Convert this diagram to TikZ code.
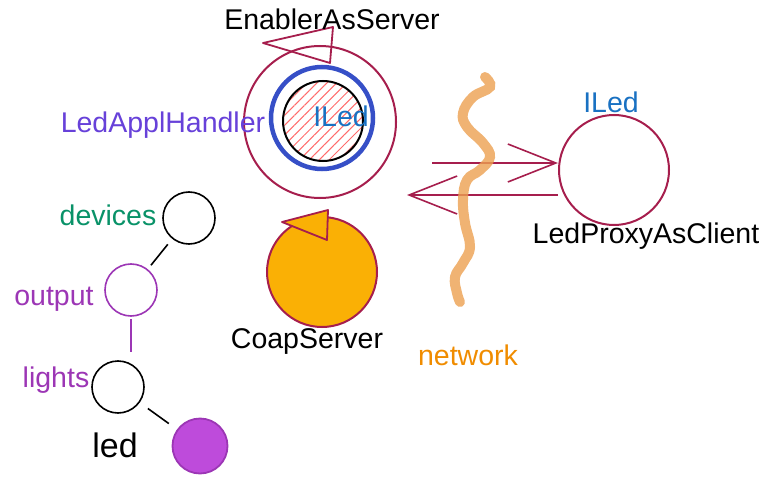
\documentclass[tikz,border=0pt]{standalone}
\usepackage{fontspec}
\setmainfont{Liberation Sans}
\usepackage{tikz}
\usetikzlibrary {arrows.meta}
\usetikzlibrary {patterns.meta}

\definecolor{crimson}{HTML}{A61E4D}
\definecolor{ringblue}{HTML}{364FC7}
\definecolor{ifblue}{HTML}{1971C2}
\definecolor{handler}{HTML}{6741D9}
\definecolor{devgreen}{HTML}{099268}
\definecolor{violet}{HTML}{9C36B5}
\definecolor{ledfill}{HTML}{BE4BDB}
\definecolor{coap}{HTML}{FAB005}
\definecolor{hatch}{HTML}{FF6B6B}
\definecolor{netline}{RGB}{236,160,80}
\definecolor{nettext}{HTML}{F08C00}

\begin{document}
\begin{tikzpicture}[x=1pt,y=-1pt,
    lbl/.style={anchor=base,font=\fontsize{28.5}{31}\selectfont},
    ring/.style={circle,draw,inner sep=0pt},
    barb/.style={-{Straight Barb[length=48pt,width=38pt]},draw=crimson,line width=1.6pt}]
        \useasboundingbox (0,0) rectangle (765,489);

        % server side
        \node[ring,draw=crimson,line width=2pt,minimum size=152pt] (enabler) at (320,122) {};
        \node[ring,draw=ringblue,line width=4.5pt,minimum size=102pt] (handler) at (322,118) {};
        \node[ring,draw=black,line width=2pt,minimum size=80pt,
              pattern={Lines[angle=45,distance=7pt,line width=1pt]},pattern color=hatch] (ledif) at (323,121) {};
        \draw[crimson,line width=1.8pt,line join=round](263,43)--(333,27)--(330,63)--cycle;%矢印
        \node[lbl] (tEnabler) at (332,30) {EnablerAsServer};
        \node[lbl,text=handler] (tHandler) at (163,133) {LedApplHandler};
        \node[lbl,text=ifblue] (tIf) at (341,127) {ILed};

        \node[ring,draw=crimson,fill=coap,line width=2pt,minimum size=110pt] (coap) at (322,272) {};
        \draw[crimson,fill=coap,line width=1.8pt,line join=round](282,222)--(328,210)--(327,240)--cycle;%矢印
        \node[lbl] (tCoap) at (307,348) {CoapServer};

        % client side
        \node[ring,draw=crimson,line width=2pt,minimum size=110pt] (proxy) at (614,170) {};
        \node[lbl,text=ifblue] (tProxyIf) at (611,113) {ILed};
        \node[lbl] (tProxy) at (646,243) {LedProxyAsClient};

        \coordinate (req) at (432,163);
        \coordinate (rep) at (407,195);
        \draw[barb](req)--(req -| proxy.west);
        \draw[barb](proxy.west |- rep)--(rep);

        % network
        \draw[netline,line width=10pt,line cap=round,opacity=.8] plot[smooth,tension=.7] coordinates
            {(485,77) (490,87) (473,97) (463,113) (467,127) (483,143) (490,157) (480,170) (467,180)
             (463,200) (465,223) (470,247) (463,263) (455,277) (457,293) (460,302)};
        \node[lbl,text=nettext] (tNet) at (468,365) {network};

        % resource tree
        \node[ring,draw=black,line width=1.6pt,minimum size=52pt] (devices) at (189,218) {};
        \node[ring,draw=violet,line width=1.6pt,minimum size=52pt] (output) at (131,290) {};
        \node[ring,draw=black,line width=1.6pt,minimum size=52pt] (lights) at (118,387) {};
        \node[ring,draw=violet,fill=ledfill,line width=1.8pt,minimum size=55pt] (led) at (200,446) {};
        \node[lbl,text=devgreen] (tDevices) at (108,225) {devices};
        \node[lbl,text=violet] (tOutput) at (54,305) {output};
        \node[lbl,text=violet] (tLights) at (56,387) {lights};
        \node[lbl,font=\fontsize{34}{37}\selectfont] (tLed) at (115,457) {led};

        \draw[black,line width=1.6pt,shorten <=7pt,shorten >=5pt](devices)--(output);
        \draw[violet,line width=1.6pt,shorten <=2pt,shorten >=8pt](output.south)--(output.south |- lights.north);
        \draw[black,line width=1.6pt,shorten <=10pt,shorten >=10pt](lights)--(led);
      \end{tikzpicture}
\end{document}
